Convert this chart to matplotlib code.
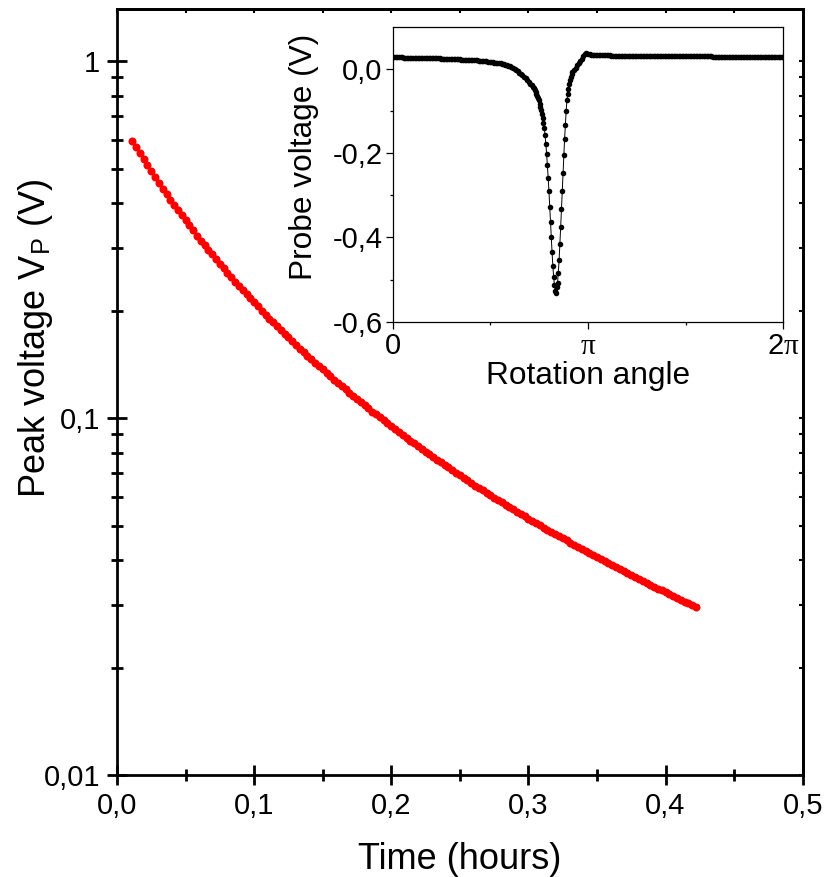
import matplotlib.pyplot as plt
import numpy as np
from matplotlib.ticker import NullFormatter, LogLocator

# main curve: peak voltage vs time (sampled every 10 s)
time_s = [40, 50, 60, 70, 80, 90, 100, 110, 120, 130, 140, 150, 160, 170, 180,
          190, 200, 210, 220, 230, 240, 250, 260, 270, 280, 290, 300, 310, 320, 330,
          340, 350, 360, 370, 380, 390, 400, 410, 420, 430, 440, 450, 460, 470, 480,
          490, 500, 510, 520, 530, 540, 550, 560, 570, 580, 590, 600, 610, 620, 630,
          640, 650, 660, 670, 680, 690, 700, 710, 720, 730, 740, 750, 760, 770, 780,
          790, 800, 810, 820, 830, 840, 850, 860, 870, 880, 890, 900, 910, 920, 930,
          940, 950, 960, 970, 980, 990, 1000, 1010, 1020, 1030, 1040, 1050, 1060, 1070, 1080,
          1090, 1100, 1110, 1120, 1130, 1140, 1150, 1160, 1170, 1180, 1190, 1200, 1210, 1220, 1230,
          1240, 1250, 1260, 1270, 1280, 1290, 1300, 1310, 1320, 1330, 1340, 1350, 1360, 1370, 1380,
          1390, 1400, 1410, 1420, 1430, 1440, 1450, 1460, 1470, 1480, 1490, 1500, 1510, 1520]

peak_v = [0.5957, 0.5735, 0.5522, 0.5316, 0.5118, 0.4927, 0.4744, 0.4567, 0.4397, 0.4233, 0.4095, 0.3961, 0.3832, 0.3707, 0.3586,
          0.3469, 0.3356, 0.3246, 0.3140, 0.3049, 0.2961, 0.2875, 0.2791, 0.2710, 0.2632, 0.2555, 0.2481, 0.2409, 0.2346, 0.2285,
          0.2225, 0.2167, 0.2110, 0.2055, 0.2001, 0.1949, 0.1898, 0.1853, 0.1809, 0.1766, 0.1724, 0.1683, 0.1643, 0.1604, 0.1566,
          0.1528, 0.1495, 0.1462, 0.1430, 0.1399, 0.1369, 0.1339, 0.1310, 0.1281, 0.1253, 0.1228, 0.1203, 0.1179, 0.1155, 0.1132,
          0.1109, 0.1087, 0.1065, 0.1043, 0.1024, 0.1005, 0.0986, 0.0968, 0.0949, 0.0932, 0.0914, 0.0897, 0.0880, 0.0865, 0.0850,
          0.0835, 0.0820, 0.0806, 0.0792, 0.0778, 0.0765, 0.0751, 0.0739, 0.0727, 0.0715, 0.0703, 0.0692, 0.0680, 0.0669, 0.0658,
          0.0647, 0.0637, 0.0628, 0.0618, 0.0608, 0.0599, 0.0590, 0.0581, 0.0572, 0.0563, 0.0555, 0.0547, 0.0539, 0.0531, 0.0523,
          0.0515, 0.0508, 0.0501, 0.0493, 0.0486, 0.0480, 0.0473, 0.0467, 0.0460, 0.0454, 0.0448, 0.0441, 0.0435, 0.0430, 0.0424,
          0.0418, 0.0413, 0.0407, 0.0402, 0.0397, 0.0392, 0.0387, 0.0382, 0.0377, 0.0372, 0.0368, 0.0363, 0.0358, 0.0354, 0.0350,
          0.0345, 0.0341, 0.0337, 0.0333, 0.0329, 0.0325, 0.0321, 0.0317, 0.0314, 0.0310, 0.0306, 0.0303, 0.0299, 0.0296]

# inset: probe voltage over one rotation (angle in degrees)
angle_deg = [0.00, 1.44, 2.88, 4.32, 5.76, 7.20, 8.64, 10.08, 11.52, 12.96,
             14.40, 15.84, 17.28, 18.72, 20.16, 21.60, 23.04, 24.48, 25.92, 27.36,
             28.80, 30.24, 31.68, 33.12, 34.56, 36.00, 37.44, 38.88, 40.32, 41.76,
             43.20, 44.64, 46.08, 47.52, 48.96, 50.40, 51.84, 53.28, 54.72, 56.16,
             57.60, 59.04, 60.48, 61.92, 63.36, 64.80, 66.24, 67.68, 69.12, 70.56,
             72.00, 73.44, 74.88, 76.32, 77.76, 79.20, 80.64, 82.08, 83.52, 84.96,
             86.40, 87.84, 89.28, 90.72, 92.16, 93.60, 95.04, 96.48, 97.92, 99.36,
             100.80, 102.24, 103.68, 105.12, 106.56, 108.00, 109.44, 110.88, 112.32, 113.76,
             115.20, 116.64, 118.08, 119.52, 120.96, 122.40, 123.84, 125.28, 126.72, 128.16,
             129.60,
             130.32, 131.04, 131.76, 132.48, 133.20, 133.92, 134.64, 135.36, 136.08, 136.80,
             137.52, 138.24, 138.96, 139.68, 140.40, 141.12, 141.84, 142.56, 143.28, 144.00,
             144.72, 145.44, 146.16, 146.88, 147.60, 148.32, 149.04, 149.76, 150.48, 151.20,
             151.92, 152.64, 153.36, 154.08, 154.80, 155.52, 156.24, 156.96, 157.68, 158.40,
             159.12, 159.84, 160.56, 161.28, 162.00, 162.72, 163.44, 164.16, 164.88, 165.60,
             167.04, 168.48, 169.92, 171.36, 172.80, 174.24, 175.68, 177.12, 178.56, 180.00,
             181.44, 182.88, 184.32, 185.76, 187.20, 188.64, 190.08, 191.52, 192.96, 194.40,
             195.84, 197.28, 198.72, 200.16, 201.60, 203.04, 204.48, 205.92, 207.36, 208.80,
             210.24, 211.68, 213.12, 214.56, 216.00, 217.44, 218.88, 220.32, 221.76, 223.20,
             224.64, 226.08, 227.52, 228.96, 230.40, 231.84, 233.28, 234.72, 236.16, 237.60,
             239.04, 240.48, 241.92, 243.36, 244.80, 246.24, 247.68, 249.12, 250.56, 252.00,
             253.44, 254.88, 256.32, 257.76, 259.20, 260.64, 262.08, 263.52, 264.96, 266.40,
             267.84, 269.28, 270.72, 272.16, 273.60, 275.04, 276.48, 277.92, 279.36, 280.80,
             282.24, 283.68, 285.12, 286.56, 288.00, 289.44, 290.88, 292.32, 293.76, 295.20,
             296.64, 298.08, 299.52, 300.96, 302.40, 303.84, 305.28, 306.72, 308.16, 309.60,
             311.04, 312.48, 313.92, 315.36, 316.80, 318.24, 319.68, 321.12, 322.56, 324.00,
             325.44, 326.88, 328.32, 329.76, 331.20, 332.64, 334.08, 335.52, 336.96, 338.40,
             339.84, 341.28, 342.72, 344.16, 345.60, 347.04, 348.48, 349.92, 351.36, 352.80,
             354.24, 355.68, 357.12, 358.56, 360.00]

probe_v = [0.0275, 0.0274, 0.0273, 0.0272, 0.0271, 0.0271, 0.0270, 0.0269, 0.0268, 0.0267,
           0.0266, 0.0265, 0.0264, 0.0264, 0.0263, 0.0262, 0.0261, 0.0260, 0.0259, 0.0258,
           0.0257, 0.0257, 0.0256, 0.0255, 0.0254, 0.0253, 0.0252, 0.0251, 0.0250, 0.0248,
           0.0246, 0.0244, 0.0242, 0.0241, 0.0239, 0.0237, 0.0235, 0.0233, 0.0232, 0.0230,
           0.0228, 0.0226, 0.0224, 0.0222, 0.0220, 0.0218, 0.0215, 0.0213, 0.0211, 0.0209,
           0.0207, 0.0205, 0.0203, 0.0200, 0.0198, 0.0196, 0.0193, 0.0189, 0.0185, 0.0180,
           0.0176, 0.0172, 0.0167, 0.0162, 0.0156, 0.0150, 0.0145, 0.0139, 0.0133, 0.0128,
           0.0120, 0.0111, 0.0103, 0.0094, 0.0078, 0.0062, 0.0046, 0.0023, -0.0003, -0.0029,
           -0.0055, -0.0087, -0.0119, -0.0150, -0.0186, -0.0226, -0.0267, -0.0308, -0.0348, -0.0389,
           -0.0430,
           -0.0465, -0.0505, -0.0545, -0.0590, -0.0640, -0.0693, -0.0750, -0.0828, -0.0909, -0.0987,
           -0.1082, -0.1160, -0.1278, -0.1406, -0.1562, -0.1775, -0.2012, -0.2289, -0.2580, -0.2904,
           -0.3276, -0.3645, -0.4000, -0.4355, -0.4672, -0.4933, -0.5129, -0.5264, -0.5311, -0.5183,
           -0.5075, -0.4838, -0.4537, -0.4166, -0.3763, -0.3337, -0.2904, -0.2462, -0.2052, -0.1673,
           -0.1325, -0.1011, -0.0750, -0.0600, -0.0470, -0.0360, -0.0270, -0.0190, -0.0125, -0.0070,
           -0.0020, 0.0030, 0.0080, 0.0130, 0.0180, 0.0240, 0.0300, 0.0355, 0.0380, 0.0360,
           0.0345, 0.0335, 0.0328, 0.0322, 0.0320, 0.0320, 0.0319, 0.0319, 0.0319, 0.0318,
           0.0318, 0.0318, 0.0317, 0.0317, 0.0316, 0.0316, 0.0316, 0.0315, 0.0315, 0.0314,
           0.0314, 0.0314, 0.0313, 0.0313, 0.0313, 0.0312, 0.0312, 0.0311, 0.0311, 0.0311,
           0.0310, 0.0310, 0.0310, 0.0309, 0.0309, 0.0308, 0.0308, 0.0308, 0.0307, 0.0307,
           0.0307, 0.0306, 0.0306, 0.0305, 0.0305, 0.0305, 0.0304, 0.0304, 0.0304, 0.0303,
           0.0303, 0.0302, 0.0302, 0.0302, 0.0301, 0.0301, 0.0300, 0.0300, 0.0300, 0.0299,
           0.0299, 0.0299, 0.0298, 0.0298, 0.0297, 0.0297, 0.0297, 0.0296, 0.0296, 0.0296,
           0.0296, 0.0295, 0.0295, 0.0294, 0.0294, 0.0294, 0.0293, 0.0293, 0.0293, 0.0292,
           0.0292, 0.0292, 0.0291, 0.0291, 0.0290, 0.0290, 0.0290, 0.0289, 0.0289, 0.0289,
           0.0288, 0.0288, 0.0287, 0.0287, 0.0287, 0.0286, 0.0286, 0.0285, 0.0285, 0.0285,
           0.0285, 0.0284, 0.0284, 0.0283, 0.0283, 0.0283, 0.0282, 0.0282, 0.0281, 0.0281,
           0.0281, 0.0280, 0.0280, 0.0280, 0.0279, 0.0279, 0.0278, 0.0278, 0.0278, 0.0277,
           0.0277, 0.0277, 0.0276, 0.0276, 0.0275]

x_ticks = [0.0, 0.1, 0.2, 0.3, 0.4, 0.5]
x_labels = ['0,0', '0,1', '0,2', '0,3', '0,4', '0,5']
y_ticks = [0.01, 0.1, 1]
y_labels = ['0,01', '0,1', '1']
in_yticks = [-0.6, -0.4, -0.2, 0.0]
in_ylabels = ['-0,6', '-0,4', '-0,2', '0,0']
in_xlabels = ['0', r'$\mathrm{\pi}$', r'2$\mathrm{\pi}$']

plt.rcParams['font.family'] = 'Liberation Sans'
plt.rcParams['mathtext.fontset'] = 'custom'
plt.rcParams['mathtext.rm'] = 'Liberation Serif'
plt.rcParams['mathtext.it'] = 'Liberation Serif:italic'

W, H = 835, 877
fig = plt.figure(figsize=(W / 100, H / 100), dpi=100)

# main axes
ax = fig.add_axes([117 / W, 1 - 775 / H, 685.7 / W, 766 / H])
ax.plot(np.array(time_s) / 3600.0, peak_v, 'o', color='red', ms=5.8, mew=0)
ax.set_yscale('log')
ax.set_xlim(0, 0.5)
ax.set_ylim(0.01, 1.40)
ax.set_xticks(x_ticks)
ax.set_xticklabels(x_labels)
ax.set_xticks([0.05, 0.15, 0.25, 0.35, 0.45], minor=True)
ax.set_yticks(y_ticks)
ax.set_yticklabels(y_labels)
ax.yaxis.set_minor_locator(LogLocator(base=10, subs=np.arange(2, 10)))
ax.yaxis.set_minor_formatter(NullFormatter())
ax.tick_params(which='major', direction='inout', length=14.5, width=2, labelsize=21, pad=5)
ax.tick_params(which='minor', direction='inout', length=8.5, width=2)
for s in ax.spines.values():
    s.set_linewidth(2)
ax.set_xlabel('Time (hours)', fontsize=26)
ax.set_ylabel(r'Peak voltage V$_\mathregular{P}$ (V)', fontsize=26)
ax.xaxis.set_label_coords(0.5, -0.088)
ax.yaxis.set_label_coords(-0.0904, 0.570)

top = ax.secondary_xaxis('top')
top.set_xticks(x_ticks)
top.set_xticks([0.05, 0.15, 0.25, 0.35, 0.45], minor=True)
top.tick_params(which='both', direction='in', length=3, width=1.5, labeltop=False)
top.spines['top'].set_linewidth(2)
right = ax.secondary_yaxis('right')
right.set_yticks(y_ticks)
right.tick_params(which='both', direction='in', length=3, width=1.5, labelright=False)
right.spines['right'].set_linewidth(2)

# inset
ins = fig.add_axes([392.7 / W, 1 - 321.7 / H, 390.6 / W, 295 / H])
ins.set_facecolor('white')
ins.plot(np.radians(angle_deg), probe_v, '-', color='black', lw=0.7,
         marker='o', ms=4.0, mew=0)
ins.set_xlim(0, 2 * np.pi)
ins.set_ylim(-0.6, 0.1)
ins.set_xticks([0, np.pi, 2 * np.pi])
ins.set_xticklabels(in_xlabels)
ins.set_xticks([np.pi / 2, 3 * np.pi / 2], minor=True)
ins.set_yticks(in_yticks)
ins.set_yticklabels(in_ylabels)
ins.set_yticks([-0.5, -0.3, -0.1], minor=True)
ins.tick_params(which='major', direction='out', length=4.8, width=0.9, labelsize=21, pad=2.5)
ins.tick_params(which='minor', direction='out', length=2.5, width=0.9)
for s in ins.spines.values():
    s.set_linewidth(0.9)
ins.set_xlabel('Rotation angle', fontsize=22.8)
ins.set_ylabel('Probe voltage (V)', fontsize=22.8)
ins.xaxis.set_label_coords(0.5, -0.134)
ins.yaxis.set_label_coords(-0.188, 0.559)

plt.savefig('out.png', dpi=100)
